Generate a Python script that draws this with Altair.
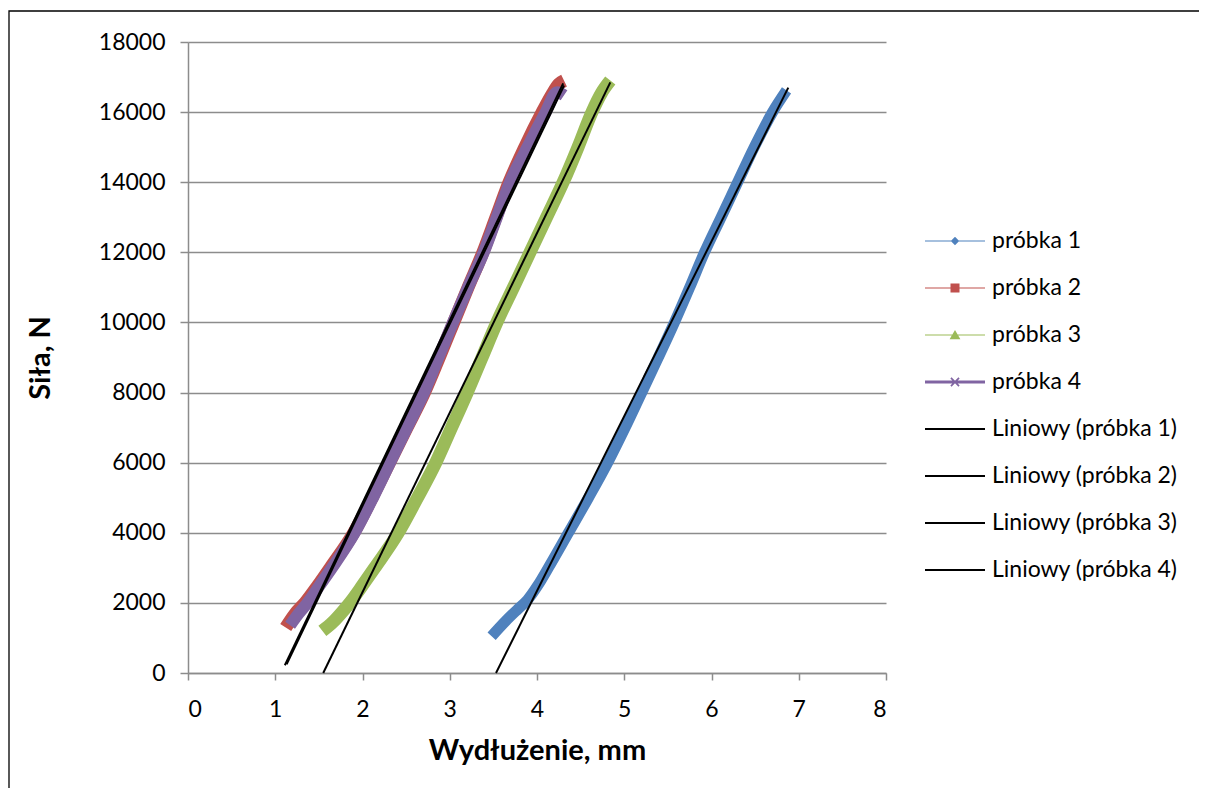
import altair as alt
import pandas as pd

# ---------------- data ----------------
series_names = ["próbka 1", "próbka 2", "próbka 3", "próbka 4",
                "Liniowy (próbka 1)", "Liniowy (próbka 2)",
                "Liniowy (próbka 3)", "Liniowy (próbka 4)"]
series_colors = ["#4F81BD", "#C0504D", "#9BBB59", "#8064A2",
                 "#000000", "#000000", "#000000", "#000000"]

s1_x = [3.48, 3.64, 3.78, 3.89, 4.01, 4.13, 4.36, 4.59, 4.81, 5.01, 5.20, 5.39,
        5.575, 5.75, 5.92, 6.11, 6.30, 6.49, 6.70, 6.86]
s1_f = [1050, 1480, 1820, 2080, 2500, 3000, 4000, 5000, 6000, 7000, 8000, 9000,
        10000, 11000, 12000, 13000, 14000, 15000, 16000, 16620]

s2_x = [1.12, 1.23, 1.34, 1.49, 1.63, 1.90, 2.11, 2.31, 2.51, 2.71, 2.88,
        3.045, 3.21, 3.38, 3.53, 3.68, 3.86, 4.06, 4.17, 4.25, 4.31]
s2_f = [1300, 1700, 2000, 2500, 3000, 4000, 5000, 6000, 7000, 8000, 9000,
        10000, 11000, 12000, 13000, 14000, 15000, 16000, 16500, 16800, 16900]

s3_x = [1.54, 1.66, 1.77, 1.87, 2.00, 2.14, 2.41, 2.63, 2.84, 3.02, 3.20, 3.37,
        3.54, 3.73, 3.92, 4.11, 4.30, 4.47, 4.63, 4.74, 4.84]
s3_f = [1200, 1450, 1750, 2050, 2500, 3000, 4000, 5000, 6000, 7000, 8000, 9000,
        10000, 11000, 12000, 13000, 14000, 15000, 16000, 16550, 16900]

s4_x = [1.17, 1.27, 1.37, 1.51, 1.65, 1.91, 2.12, 2.315, 2.51, 2.705, 2.87,
        3.037, 3.21, 3.39, 3.54, 3.69, 3.89, 4.10, 4.23, 4.31]
s4_f = [1360, 1700, 2000, 2500, 3000, 4000, 5000, 6000, 7000, 8000, 9000,
        10000, 11000, 12000, 13000, 14000, 15000, 16000, 16570, 16480]

t1_x = [3.53, 6.88]
t1_f = [0, 16700]
t2_x = [1.11, 4.30]
t2_f = [220, 16820]
t3_x = [1.55, 4.84]
t3_f = [0, 16850]
t4_x = [1.13, 4.31]
t4_f = [250, 16760]

x_ticks = [0, 1, 2, 3, 4, 5, 6, 7, 8]
y_ticks = [0, 2000, 4000, 6000, 8000, 10000, 12000, 14000, 16000, 18000]

# legend glyphs: line with a marker (unit box scaled by sqrt(size)/2)
LINE = "M-2,-0.035H2V0.035H-2Z"
shape_paths = [
    LINE + "M0,-0.28L0.28,0L0,0.28L-0.28,0Z",
    LINE + "M-0.3,-0.3H0.3V0.3H-0.3Z",
    LINE + "M0,-0.33L0.36,0.28H-0.36Z",
    "M-2,-0.1H2V0.1H-2Z" + "M-0.23,-0.31L0.31,0.23L0.23,0.31L-0.31,-0.23Z"
    + "M-0.31,0.23L0.23,-0.31L0.31,-0.23L-0.23,0.31Z",
    "M-2,-0.06H2V0.06H-2Z",
    "M-2,-0.06H2V0.06H-2Z",
    "M-2,-0.06H2V0.06H-2Z",
    "M-2,-0.06H2V0.06H-2Z",
]

GRID = "#8c8c8c"
FONT = "Lato"

xscale = alt.Scale(domain=[0, 8], nice=False, zero=False)
yscale = alt.Scale(domain=[0, 18000], nice=False)
xaxis = alt.Axis(values=x_ticks, title="Wydłużenie, mm", grid=False,
                 domainColor=GRID, domainWidth=1.5, tickColor=GRID, tickWidth=1.5,
                 tickSize=7, labelFont=FONT, labelFontSize=23, labelColor="black",
                 labelPadding=18, titleFont=FONT, titleFontSize=29,
                 titleFontWeight="bold", titleColor="black", titlePadding=15)
yaxis = alt.Axis(values=y_ticks, format="d", title="Siła, N", grid=True,
                 gridColor=GRID, gridWidth=1.5, domainColor=GRID, domainWidth=1.5,
                 tickColor=GRID, tickWidth=1.5, tickSize=8, labelFont=FONT,
                 labelFontSize=23, labelColor="black", labelPadding=15,
                 titleFont=FONT, titleFontSize=29, titleFontWeight="bold",
                 titleColor="black", titlePadding=43)


def frame_df(xs, fs):
    return pd.DataFrame({"x": xs, "f": fs, "i": list(range(len(xs)))})


def line_layer(xs, fs, color, width, interp="monotone"):
    return alt.Chart(frame_df(xs, fs)).mark_line(
        color=color, strokeWidth=width, strokeCap="butt", strokeJoin="round",
        interpolate=interp,
    ).encode(
        x=alt.X("x:Q", scale=xscale, axis=xaxis),
        y=alt.Y("f:Q", scale=yscale, axis=yaxis),
        order="i:Q",
    )


l1 = line_layer(s1_x, s1_f, series_colors[0], 11)
l2 = line_layer(s2_x, s2_f, series_colors[1], 13)
l3 = line_layer(s3_x, s3_f, series_colors[2], 13)
l4 = line_layer(s4_x, s4_f, series_colors[3], 12)
tl1 = line_layer(t1_x, t1_f, "black", 2, "linear")
tl2 = line_layer(t2_x, t2_f, "black", 2, "linear")
tl3 = line_layer(t3_x, t3_f, "black", 2, "linear")
tl4 = line_layer(t4_x, t4_f, "black", 2, "linear")

leg = alt.Legend(title=None, orient="none", legendX=752, legendY=184,
                 symbolSize=900, symbolStrokeWidth=0, symbolOpacity=1,
                 labelFont=FONT, labelFontSize=23, labelColor="black",
                 labelOffset=22, rowPadding=20, padding=0, symbolOffset=0,
                 labelLimit=400)

legend_layer = alt.Chart(pd.DataFrame({"series": series_names})).transform_filter(
    "false"
).mark_point(filled=True, opacity=1, strokeWidth=0).encode(
    fill=alt.Fill("series:N", sort=series_names,
                  scale=alt.Scale(domain=series_names, range=series_colors), legend=leg),
    shape=alt.Shape("series:N", sort=series_names,
                    scale=alt.Scale(domain=series_names, range=shape_paths), legend=leg),
)

border = alt.Chart(pd.DataFrame({"a": [0]})).mark_rect(
    filled=False, stroke="black", strokeWidth=1.3
).encode(x=alt.value(-179), x2=alt.value(1300), y=alt.value(-31), y2=alt.value(900))

chart = alt.layer(border, l1, l2, l3, l4, tl1, tl2, tl3, tl4, legend_layer).properties(
    width=698, height=631,
    autosize=alt.AutoSizeParams(type="none"),
    padding={"left": 180, "top": 34, "right": 313, "bottom": 115},
).configure_view(strokeWidth=0)

chart.save("out.html", embed_options={"renderer": "svg", "actions": False})
